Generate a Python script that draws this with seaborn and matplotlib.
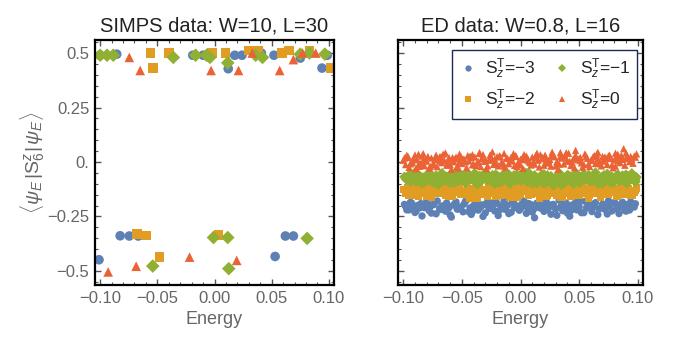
import numpy as np
import pandas as pd
import matplotlib
matplotlib.use("Agg")
import matplotlib.pyplot as plt
from matplotlib.ticker import MultipleLocator
import seaborn as sns

# --- sectors / styles ---
SECTORS = ['-3', '-2', '-1', '0']
COLORS = {'-3': '#5E81B5', '-2': '#E19C24', '-1': '#8FB032', '0': '#EB6235'}
MARKERS = {'-3': 'o', '-2': 's', '-1': 'D', '0': '^'}
LEGEND_LABELS = [r'$\mathrm{S}_z^\mathrm{T}$=' + '\u22123', r'$\mathrm{S}_z^\mathrm{T}$=' + '\u22122',
                 r'$\mathrm{S}_z^\mathrm{T}$=' + '\u22121', r'$\mathrm{S}_z^\mathrm{T}$=0']

# --- SIMPS data (left panel) ---
simps_E_m3 = [-0.100, -0.0855, -0.019, -0.010, 0.012, 0.0177, 0.024, 0.041, 0.052, 0.075, 0.094, 0.0986,
              -0.101, -0.0825, -0.0745, -0.0667, 0.053, 0.062, 0.069]
simps_V_m3 = [0.49, 0.495, 0.49, 0.49, 0.428, 0.49, 0.49, 0.50, 0.49, 0.477, 0.431, 0.49,
              -0.449, -0.339, -0.34, -0.34, -0.434, -0.34, -0.34]
simps_E_m2 = [-0.056, -0.054, -0.040, -0.002, 0.0096, 0.030, 0.0385, 0.059, 0.065, 0.083, 0.1015,
              -0.068, -0.060, -0.048, 0.0035]
simps_V_m2 = [0.499, 0.431, 0.499, 0.499, 0.499, 0.511, 0.511, 0.499, 0.511, 0.511, 0.431,
              -0.332, -0.337, -0.437, -0.334]
simps_E_m1 = [-0.100, -0.094, -0.0885, -0.036, -0.0165, -0.007, -0.004, 0.0116, 0.036, 0.042, 0.075, 0.083, 0.0965,
              -0.054, -0.0009, 0.0116, 0.0125, 0.081]
simps_V_m1 = [0.49, 0.49, 0.49, 0.48, 0.49, 0.49, 0.48, 0.455, 0.49, 0.48, 0.495, 0.50, 0.495,
              -0.478, -0.347, -0.347, -0.49, -0.351]
simps_E_0 = [-0.0745, -0.065, -0.003, 0.021, 0.033, 0.057, 0.069, 0.077, 0.0885,
             -0.093, -0.0685, -0.0218, 0.0194]
simps_V_0 = [0.48, 0.42, 0.42, 0.42, 0.50, 0.42, 0.47, 0.50, 0.50,
             -0.505, -0.479, -0.437, -0.452]

# --- ED data (right panel) ---
ed_E_m3 = [-0.099, -0.097, -0.096, -0.094, -0.091, -0.090, -0.088, -0.085, -0.084, -0.082,
           -0.080, -0.078, -0.077, -0.074, -0.072, -0.071, -0.069, -0.067, -0.064, -0.063,
           -0.061, -0.059, -0.057, -0.055, -0.054, -0.051, -0.049, -0.048, -0.046, -0.043,
           -0.042, -0.040, -0.038, -0.036, -0.034, -0.031, -0.030, -0.028, -0.026, -0.024,
           -0.022, -0.020, -0.019, -0.016, -0.014, -0.013, -0.011, -0.008, -0.007, -0.005,
           -0.003, -0.001, 0.001, 0.003, 0.005, 0.006, 0.009, 0.011, 0.012, 0.014,
           0.017, 0.018, 0.020, 0.022, 0.025, 0.026, 0.028, 0.030, 0.033, 0.034,
           0.036, 0.038, 0.041, 0.042, 0.044, 0.047, 0.048, 0.050, 0.052, 0.055,
           0.056, 0.058, 0.061, 0.062, 0.064, 0.066, 0.069, 0.070, 0.072, 0.075,
           0.076, 0.078, 0.081, 0.082, 0.084, 0.087, 0.088, 0.091, 0.093, 0.096, 0.098,
           -0.098, -0.093, -0.089, -0.086, -0.081, -0.076, -0.073, -0.068, -0.065, -0.060,
           -0.056, -0.052, -0.047, -0.044, -0.039, -0.035, -0.032, -0.027, -0.023, -0.018,
           -0.015, -0.010, -0.006, -0.002, 0.002, 0.007, 0.010, 0.015, 0.019, 0.023,
           0.027, 0.031, 0.035, 0.039, 0.043, 0.046, 0.051, 0.054, 0.059, 0.063,
           0.067, 0.071, 0.074, 0.079, 0.083, 0.086, 0.090, 0.094, 0.097, -0.095,
           -0.079, -0.062, -0.041, -0.021, 0.0, 0.021, 0.040, 0.057, 0.073, 0.089]
ed_V_m3 = [-0.195, -0.22, -0.208, -0.186, -0.215, -0.232, -0.2, -0.191, -0.248, -0.21,
           -0.182, -0.223, -0.205, -0.196, -0.238, -0.179, -0.214, -0.202, -0.226, -0.188,
           -0.21, -0.253, -0.198, -0.184, -0.217, -0.206, -0.229, -0.193, -0.175, -0.211,
           -0.241, -0.2, -0.186, -0.221, -0.208, -0.196, -0.234, -0.181, -0.213, -0.203,
           -0.225, -0.19, -0.246, -0.207, -0.178, -0.218, -0.199, -0.231, -0.187, -0.21,
           -0.202, -0.222, -0.194, -0.18, -0.236, -0.209, -0.196, -0.219, -0.256, -0.189,
           -0.212, -0.201, -0.227, -0.183, -0.205, -0.24, -0.195, -0.216, -0.176, -0.208,
           -0.224, -0.191, -0.21, -0.249, -0.198, -0.186, -0.22, -0.204, -0.233, -0.181,
           -0.213, -0.197, -0.228, -0.205, -0.187, -0.242, -0.21, -0.194, -0.218, -0.179,
           -0.202, -0.225, -0.19, -0.215, -0.237, -0.185, -0.209, -0.196, -0.221, -0.203, -0.192,
           -0.204, -0.188, -0.225, -0.211, -0.197, -0.235, -0.184, -0.218, -0.201, -0.243,
           -0.192, -0.215, -0.181, -0.229, -0.206, -0.194, -0.25, -0.21, -0.186, -0.222,
           -0.199, -0.237, -0.178, -0.213, -0.202, -0.191, -0.23, -0.208, -0.184, -0.219,
           -0.196, -0.245, -0.205, -0.189, -0.223, -0.21, -0.177, -0.233, -0.2, -0.192,
           -0.216, -0.206, -0.239, -0.188, -0.211, -0.198, -0.226, -0.183, -0.207, -0.22,
           -0.193, -0.203, -0.228, -0.187, -0.214, -0.199, -0.235, -0.181, -0.208, -0.222]
ed_E_m2 = [-0.100, -0.098, -0.096, -0.095, -0.093, -0.091, -0.089, -0.087, -0.086, -0.083,
           -0.081, -0.079, -0.078, -0.076, -0.073, -0.071, -0.070, -0.068, -0.066, -0.063,
           -0.062, -0.060, -0.058, -0.056, -0.053, -0.052, -0.050, -0.047, -0.045, -0.044,
           -0.041, -0.039, -0.037, -0.035, -0.033, -0.032, -0.029, -0.027, -0.025, -0.023,
           -0.021, -0.018, -0.017, -0.015, -0.012, -0.010, -0.009, -0.006, -0.004, -0.002,
           0.000, 0.002, 0.004, 0.007, 0.008, 0.010, 0.013, 0.015, 0.016, 0.019,
           0.021, 0.023, 0.024, 0.027, 0.029, 0.031, 0.032, 0.035, 0.037, 0.039,
           0.040, 0.043, 0.045, 0.046, 0.049, 0.051, 0.053, 0.054, 0.057, 0.059,
           0.060, 0.063, 0.065, 0.067, 0.068, 0.071, 0.073, 0.074, 0.077, 0.079,
           0.080, 0.083, 0.085, 0.086, 0.089, 0.090, 0.092, 0.094, 0.097, 0.099,
           -0.097, -0.092, -0.088, -0.084, -0.080, -0.075, -0.072, -0.067, -0.064, -0.059,
           -0.055, -0.051, -0.048, -0.043, -0.040, -0.036, -0.031, -0.028, -0.024, -0.019,
           -0.016, -0.011, -0.007, -0.003, 0.001, 0.005, 0.009, 0.014, 0.017, 0.022,
           0.026, 0.030, 0.034, 0.038, 0.042, 0.047, 0.050, 0.055, 0.058, 0.062,
           0.066, 0.070, 0.075, 0.078, 0.082, 0.087, 0.091, 0.095, 0.098, -0.094,
           -0.077, -0.061, -0.042, -0.026, -0.005, 0.018, 0.036, 0.056, 0.072, 0.093]
ed_V_m2 = [-0.126, -0.143, -0.117, -0.152, -0.134, -0.109, -0.14, -0.157, -0.123, -0.131,
           -0.146, -0.114, -0.138, -0.163, -0.128, -0.12, -0.144, -0.132, -0.106, -0.149,
           -0.136, -0.124, -0.16, -0.13, -0.141, -0.113, -0.147, -0.133, -0.121, -0.154,
           -0.127, -0.139, -0.166, -0.118, -0.135, -0.15, -0.125, -0.111, -0.142, -0.131,
           -0.156, -0.122, -0.137, -0.145, -0.116, -0.133, -0.161, -0.129, -0.14, -0.108,
           -0.148, -0.124, -0.135, -0.153, -0.119, -0.132, -0.144, -0.126, -0.168, -0.138,
           -0.115, -0.151, -0.13, -0.142, -0.123, -0.155, -0.134, -0.112, -0.146, -0.128,
           -0.139, -0.159, -0.121, -0.136, -0.149, -0.125, -0.107, -0.143, -0.131, -0.154,
           -0.118, -0.137, -0.145, -0.127, -0.162, -0.133, -0.114, -0.15, -0.129, -0.141,
           -0.122, -0.157, -0.135, -0.11, -0.147, -0.132, -0.124, -0.152, -0.138, -0.12,
           -0.133, -0.151, -0.124, -0.144, -0.16, -0.129, -0.138, -0.113, -0.155, -0.142,
           -0.126, -0.148, -0.135, -0.167, -0.121, -0.146, -0.131, -0.158, -0.116, -0.14,
           -0.152, -0.127, -0.143, -0.164, -0.134, -0.119, -0.149, -0.137, -0.123, -0.156,
           -0.141, -0.13, -0.162, -0.146, -0.117, -0.139, -0.153, -0.132, -0.165, -0.128,
           -0.144, -0.12, -0.15, -0.136, -0.159, -0.125, -0.142, -0.154, -0.131, -0.147,
           -0.115, -0.158, -0.138, -0.126, -0.151, -0.135, -0.163, -0.122, -0.145, -0.133]
ed_E_m1 = [-0.099, -0.097, -0.095, -0.094, -0.092, -0.090, -0.088, -0.086, -0.084, -0.083,
           -0.080, -0.079, -0.077, -0.075, -0.072, -0.070, -0.069, -0.067, -0.065, -0.062,
           -0.061, -0.058, -0.057, -0.055, -0.053, -0.050, -0.049, -0.047, -0.044, -0.043,
           -0.040, -0.038, -0.036, -0.035, -0.032, -0.030, -0.028, -0.026, -0.024, -0.022,
           -0.020, -0.019, -0.016, -0.014, -0.012, -0.011, -0.008, -0.006, -0.004, -0.003,
           0.000, 0.001, 0.003, 0.006, 0.008, 0.009, 0.012, 0.014, 0.016, 0.018,
           0.020, 0.022, 0.024, 0.026, 0.028, 0.030, 0.033, 0.034, 0.036, 0.038,
           0.041, 0.042, 0.044, 0.047, 0.048, 0.050, 0.052, 0.055, 0.056, 0.058,
           0.061, 0.062, 0.064, 0.067, 0.069, 0.070, 0.072, 0.075, 0.076, 0.078,
           0.081, 0.083, 0.084, 0.086, 0.089, 0.091, 0.093, 0.095, 0.097, 0.099,
           -0.098, -0.093, -0.089, -0.085, -0.081, -0.078, -0.073, -0.068, -0.064, -0.060,
           -0.056, -0.052, -0.048, -0.045, -0.041, -0.037, -0.033, -0.029, -0.025, -0.021,
           -0.017, -0.013, -0.009, -0.005, -0.001, 0.004, 0.007, 0.011, 0.015, 0.019,
           0.023, 0.027, 0.031, 0.035, 0.039, 0.043, 0.046, 0.051, 0.054, 0.059,
           0.063, 0.066, 0.071, 0.074, 0.079, 0.082, 0.087, 0.090, 0.094, 0.098,
           -0.087, -0.071, -0.054, -0.034, -0.015, 0.005, 0.025, 0.045, 0.065, 0.085]
ed_V_m1 = [-0.068, -0.082, -0.059, -0.091, -0.074, -0.047, -0.086, -0.065, -0.099, -0.071,
           -0.079, -0.055, -0.088, -0.073, -0.062, -0.104, -0.077, -0.051, -0.084, -0.069,
           -0.093, -0.066, -0.078, -0.044, -0.087, -0.072, -0.061, -0.097, -0.075, -0.083,
           -0.057, -0.07, -0.09, -0.064, -0.08, -0.049, -0.085, -0.076, -0.06, -0.101,
           -0.073, -0.067, -0.089, -0.053, -0.081, -0.07, -0.095, -0.063, -0.078, -0.058,
           -0.086, -0.074, -0.046, -0.092, -0.068, -0.08, -0.061, -0.098, -0.072, -0.084,
           -0.056, -0.077, -0.09, -0.065, -0.108, -0.075, -0.05, -0.083, -0.069, -0.094,
           -0.062, -0.079, -0.087, -0.071, -0.054, -0.096, -0.074, -0.066, -0.082, -0.059,
           -0.089, -0.076, -0.048, -0.085, -0.07, -0.1, -0.063, -0.078, -0.091, -0.067,
           -0.081, -0.057, -0.088, -0.073, -0.064, -0.097, -0.076, -0.052, -0.084, -0.07,
           -0.077, -0.063, -0.091, -0.07, -0.085, -0.055, -0.098, -0.074, -0.082, -0.06,
           -0.094, -0.069, -0.087, -0.052, -0.079, -0.103, -0.066, -0.083, -0.073, -0.058,
           -0.09, -0.076, -0.1, -0.064, -0.081, -0.071, -0.049, -0.088, -0.078, -0.095,
           -0.061, -0.084, -0.072, -0.105, -0.068, -0.08, -0.057, -0.093, -0.075, -0.086,
           -0.065, -0.099, -0.073, -0.054, -0.089, -0.079, -0.062, -0.096, -0.07, -0.083,
           -0.059, -0.092, -0.076, -0.067, -0.087, -0.051, -0.081, -0.1, -0.072, -0.085]
ed_E_m1_extra = [-0.095, -0.091, -0.086, -0.082, -0.076, -0.073, -0.068, -0.063, -0.059, -0.056,
                 -0.051, -0.046, -0.042, -0.039, -0.034, -0.031, -0.027, -0.022, -0.018, -0.013,
                 -0.010, -0.005, -0.001, 0.002, 0.007, 0.010, 0.015, 0.018, 0.023, 0.026,
                 0.031, 0.035, 0.038, 0.043, 0.046, 0.051, 0.054, 0.059, 0.062, 0.067,
                 0.071, 0.074, 0.079, 0.082, 0.087, 0.090, 0.094, 0.098, -0.079, -0.058,
                 -0.038, -0.019, 0.001, 0.021, 0.040, 0.060, 0.077, 0.092, -0.066, 0.030]
ed_V_m1_extra = [-0.064, -0.081, -0.07, -0.093, -0.058, -0.076, -0.087, -0.067, -0.097, -0.073,
                 -0.06, -0.085, -0.078, -0.052, -0.09, -0.069, -0.082, -0.062, -0.095, -0.075,
                 -0.057, -0.088, -0.071, -0.083, -0.065, -0.099, -0.077, -0.059, -0.086, -0.072,
                 -0.091, -0.063, -0.08, -0.068, -0.094, -0.074, -0.056, -0.084, -0.07, -0.089,
                 -0.061, -0.079, -0.096, -0.066, -0.083, -0.058, -0.075, -0.092, -0.069, -0.081,
                 -0.064, -0.087, -0.073, -0.098, -0.06, -0.078, -0.09, -0.067, -0.084, -0.071]
ed_E_0 = [-0.100, -0.098, -0.097, -0.095, -0.093, -0.091, -0.089, -0.088, -0.085, -0.084,
          -0.082, -0.080, -0.078, -0.076, -0.074, -0.073, -0.071, -0.068, -0.067, -0.065,
          -0.063, -0.061, -0.059, -0.057, -0.056, -0.054, -0.051, -0.050, -0.048, -0.046,
          -0.044, -0.042, -0.041, -0.039, -0.037, -0.034, -0.033, -0.031, -0.029, -0.027,
          -0.025, -0.023, -0.022, -0.019, -0.018, -0.016, -0.013, -0.012, -0.010, -0.007,
          -0.005, -0.004, -0.002, 0.001, 0.002, 0.004, 0.007, 0.009, 0.010, 0.012,
          0.015, 0.016, 0.018, 0.021, 0.023, 0.025, 0.026, 0.029, 0.031, 0.032,
          0.035, 0.037, 0.038, 0.040, 0.043, 0.045, 0.046, 0.049, 0.051, 0.052,
          0.054, 0.057, 0.059, 0.060, 0.063, 0.064, 0.066, 0.069, 0.071, 0.072,
          0.074, 0.077, 0.079, 0.080, 0.082, 0.085, 0.087, 0.089, 0.092, 0.094, 0.096, 0.098,
          -0.099, -0.094, -0.090, -0.086, -0.083, -0.079, -0.075, -0.070, -0.066, -0.062,
          -0.058, -0.053, -0.049, -0.045, -0.040, -0.036, -0.032, -0.028, -0.024, -0.020,
          -0.015, -0.011, -0.006, -0.003, 0.000, 0.005, 0.008, 0.013, 0.017, 0.020,
          0.024, 0.028, 0.033, 0.036, 0.041, 0.044, 0.048, 0.053, 0.056, 0.061,
          0.065, 0.068, 0.073, 0.076, 0.081, 0.084, 0.088, 0.091, 0.095, 0.099,
          -0.087, -0.069, -0.052, -0.035, -0.014, 0.006, 0.027, 0.047, 0.067, 0.086]
ed_V_0 = [0.008, -0.012, 0.021, -0.025, 0.002, 0.015, -0.031, 0.01, -0.006, 0.027,
          -0.017, 0.004, -0.028, 0.018, -0.009, 0.012, -0.022, 0.024, -0.003, 0.007,
          -0.015, 0.02, -0.034, 0.001, 0.014, -0.019, 0.026, -0.007, 0.011, -0.026,
          0.005, 0.019, -0.013, 0.023, -0.004, -0.021, 0.016, 0.003, -0.03, 0.009,
          0.022, -0.011, 0.013, -0.018, 0.028, 0.0, -0.024, 0.017, -0.008, 0.006,
          -0.016, 0.025, -0.002, 0.011, -0.029, 0.019, 0.004, -0.014, 0.022, -0.01,
          0.008, -0.023, 0.015, 0.031, -0.005, 0.012, -0.019, 0.024, 0.002, -0.033,
          0.018, -0.009, 0.027, 0.006, -0.016, 0.014, -0.026, 0.01, 0.021, -0.004,
          -0.012, 0.017, -0.021, 0.007, 0.029, -0.007, 0.013, -0.018, 0.004, 0.023,
          -0.011, 0.016, -0.027, 0.009, 0.02, -0.003, 0.012, -0.015, 0.018, 0.025, -0.006, 0.022,
          0.018, -0.009, 0.032, -0.02, 0.006, 0.025, -0.014, 0.011, 0.036, -0.005,
          0.02, -0.027, 0.014, 0.029, -0.011, 0.003, 0.034, -0.018, 0.009, 0.024,
          -0.007, 0.016, 0.038, -0.022, 0.012, 0.027, -0.003, 0.019, 0.033, -0.015,
          0.007, 0.03, -0.01, 0.021, 0.04, -0.001, 0.015, -0.024, 0.026, 0.011,
          0.035, -0.008, 0.017, 0.031, -0.019, 0.005, 0.061, 0.028, 0.013, 0.037,
          -0.012, 0.023, 0.002, 0.039, -0.017, 0.01, 0.045, 0.053, -0.004, 0.03]
ed_E_0_extra = [-0.096, -0.092, -0.087, -0.081, -0.077, -0.072, -0.069, -0.064, -0.060, -0.055,
                -0.052, -0.047, -0.043, -0.038, -0.035, -0.030, -0.026, -0.021, -0.017, -0.014,
                -0.009, -0.004, 0.000, 0.003, 0.006, 0.011, 0.014, 0.019, 0.022, 0.027,
                0.030, 0.034, 0.039, 0.042, 0.047, 0.050, 0.055, 0.058, 0.062, 0.066,
                0.070, 0.075, 0.078, 0.083, 0.086, 0.090, 0.093, 0.097, -0.083, -0.061,
                -0.041, -0.024, -0.008, 0.013, 0.034, 0.051, 0.070, 0.081, 0.090, -0.097]
ed_V_0_extra = [0.026, -0.004, 0.035, 0.013, -0.02, 0.031, 0.004, 0.041, -0.012, 0.022,
                0.036, 0.001, 0.027, -0.016, 0.043, 0.01, 0.032, -0.006, 0.024, 0.039,
                0.005, 0.029, -0.013, 0.034, 0.017, -0.002, 0.04, 0.021, 0.008, 0.033,
                -0.018, 0.026, 0.042, 0.003, 0.03, 0.015, 0.037, -0.009, 0.024, 0.044,
                0.008, 0.028, -0.014, 0.035, 0.019, 0.041, 0.002, 0.027, 0.038, 0.014,
                0.033, 0.046, 0.021, 0.029, 0.043, 0.006, 0.025, 0.04, 0.016, 0.031]

X_TICKS = [-0.10, -0.05, 0.0, 0.05, 0.10]
X_TICKLABELS = ['\u22120.10', '\u22120.05', '0.00', '0.05', '0.10']
Y_TICKS = [-0.5, -0.25, 0.0, 0.25, 0.5]
Y_TICKLABELS = ['\u22120.5', '\u22120.25', '0.', '0.25', '0.5']


def build_frame(pairs):
    frames = []
    for sec, (E, V) in zip(SECTORS, pairs):
        frames.append(pd.DataFrame({'Energy': E, 'val': V, 'sector': sec}))
    return pd.concat(frames, ignore_index=True)


df_simps = build_frame([(simps_E_m3, simps_V_m3), (simps_E_m2, simps_V_m2),
                        (simps_E_m1, simps_V_m1), (simps_E_0, simps_V_0)])
df_ed = build_frame([(ed_E_m3, ed_V_m3), (ed_E_m2, ed_V_m2),
                     (ed_E_m1 + ed_E_m1_extra, ed_V_m1 + ed_V_m1_extra),
                     (ed_E_0 + ed_E_0_extra, ed_V_0 + ed_V_0_extra)])

sns.set_style('ticks')
plt.rcParams['font.family'] = ['Liberation Sans', 'DejaVu Sans']
plt.rcParams['mathtext.fontset'] = 'custom'
plt.rcParams['mathtext.rm'] = 'Liberation Sans'
plt.rcParams['mathtext.it'] = 'Liberation Sans:italic'

GRAY = '#666666'
fig = plt.figure(figsize=(6.76, 3.37), dpi=100)
ax1 = fig.add_axes([95 / 676, 52 / 337, 239 / 676, 245 / 337])
ax2 = fig.add_axes([398 / 676, 52 / 337, 245 / 676, 245 / 337])


def style_axis(ax, ylabels):
    ax.set_xlim(-0.1045, 0.1045)
    ax.set_ylim(-0.565, 0.56)
    ax.set_xticks(X_TICKS)
    ax.set_xticklabels(X_TICKLABELS)
    ax.set_yticks(Y_TICKS)
    if ylabels:
        ax.set_yticklabels(Y_TICKLABELS)
    else:
        ax.set_yticklabels([])
    ax.xaxis.set_minor_locator(MultipleLocator(0.01))
    ax.yaxis.set_minor_locator(MultipleLocator(0.05))
    ax.tick_params(which='both', direction='in', top=True, right=True,
                   color='#555555', labelcolor=GRAY, labelsize=12, pad=4)
    ax.tick_params(which='major', length=4, width=1)
    ax.tick_params(which='minor', length=2, width=0.8)
    for sp in ax.spines.values():
        sp.set_visible(True)
        sp.set_color('black')
        sp.set_linewidth(1.6)
    ax.set_xlabel('Energy', color=GRAY, fontsize=13, labelpad=4)


sns.scatterplot(data=df_simps, x='Energy', y='val', hue='sector', style='sector',
                hue_order=SECTORS, style_order=SECTORS, palette=COLORS, markers=MARKERS,
                s=48, edgecolor='none', linewidth=0, legend=False, ax=ax1)
style_axis(ax1, True)
ax1.set_ylabel(r'$\langle\psi_E\,|\mathrm{S}_6^z|\,\psi_E\rangle$', color=GRAY, fontsize=14, labelpad=0)
ax1.set_title('SIMPS data: W=10, L=30', fontsize=14.5, color='#222222', pad=6)

sns.scatterplot(data=df_ed, x='Energy', y='val', hue='sector', style='sector',
                hue_order=SECTORS, style_order=SECTORS, palette=COLORS, markers=MARKERS,
                s=28, edgecolor='none', linewidth=0, legend=True, ax=ax2)
style_axis(ax2, False)
ax2.set_ylabel('')
ax2.set_title('ED data: W=0.8, L=16', fontsize=14.5, color='#222222', pad=6)

handles, labels = ax2.get_legend_handles_labels()
for h in handles:
    h.set_markersize(4.5)
leg = ax2.legend(handles[:4], LEGEND_LABELS, ncol=2, loc='upper right',
                 bbox_to_anchor=(0.977, 0.96), fontsize=12.5, frameon=True,
                 fancybox=False, edgecolor='#1c2a5a', framealpha=1,
                 handletextpad=0.5, columnspacing=1.0, borderpad=0.4,
                 labelspacing=0.4, handlelength=1.0, borderaxespad=0)
leg.get_frame().set_linewidth(1.0)

fig.savefig('out.png', dpi=100)
